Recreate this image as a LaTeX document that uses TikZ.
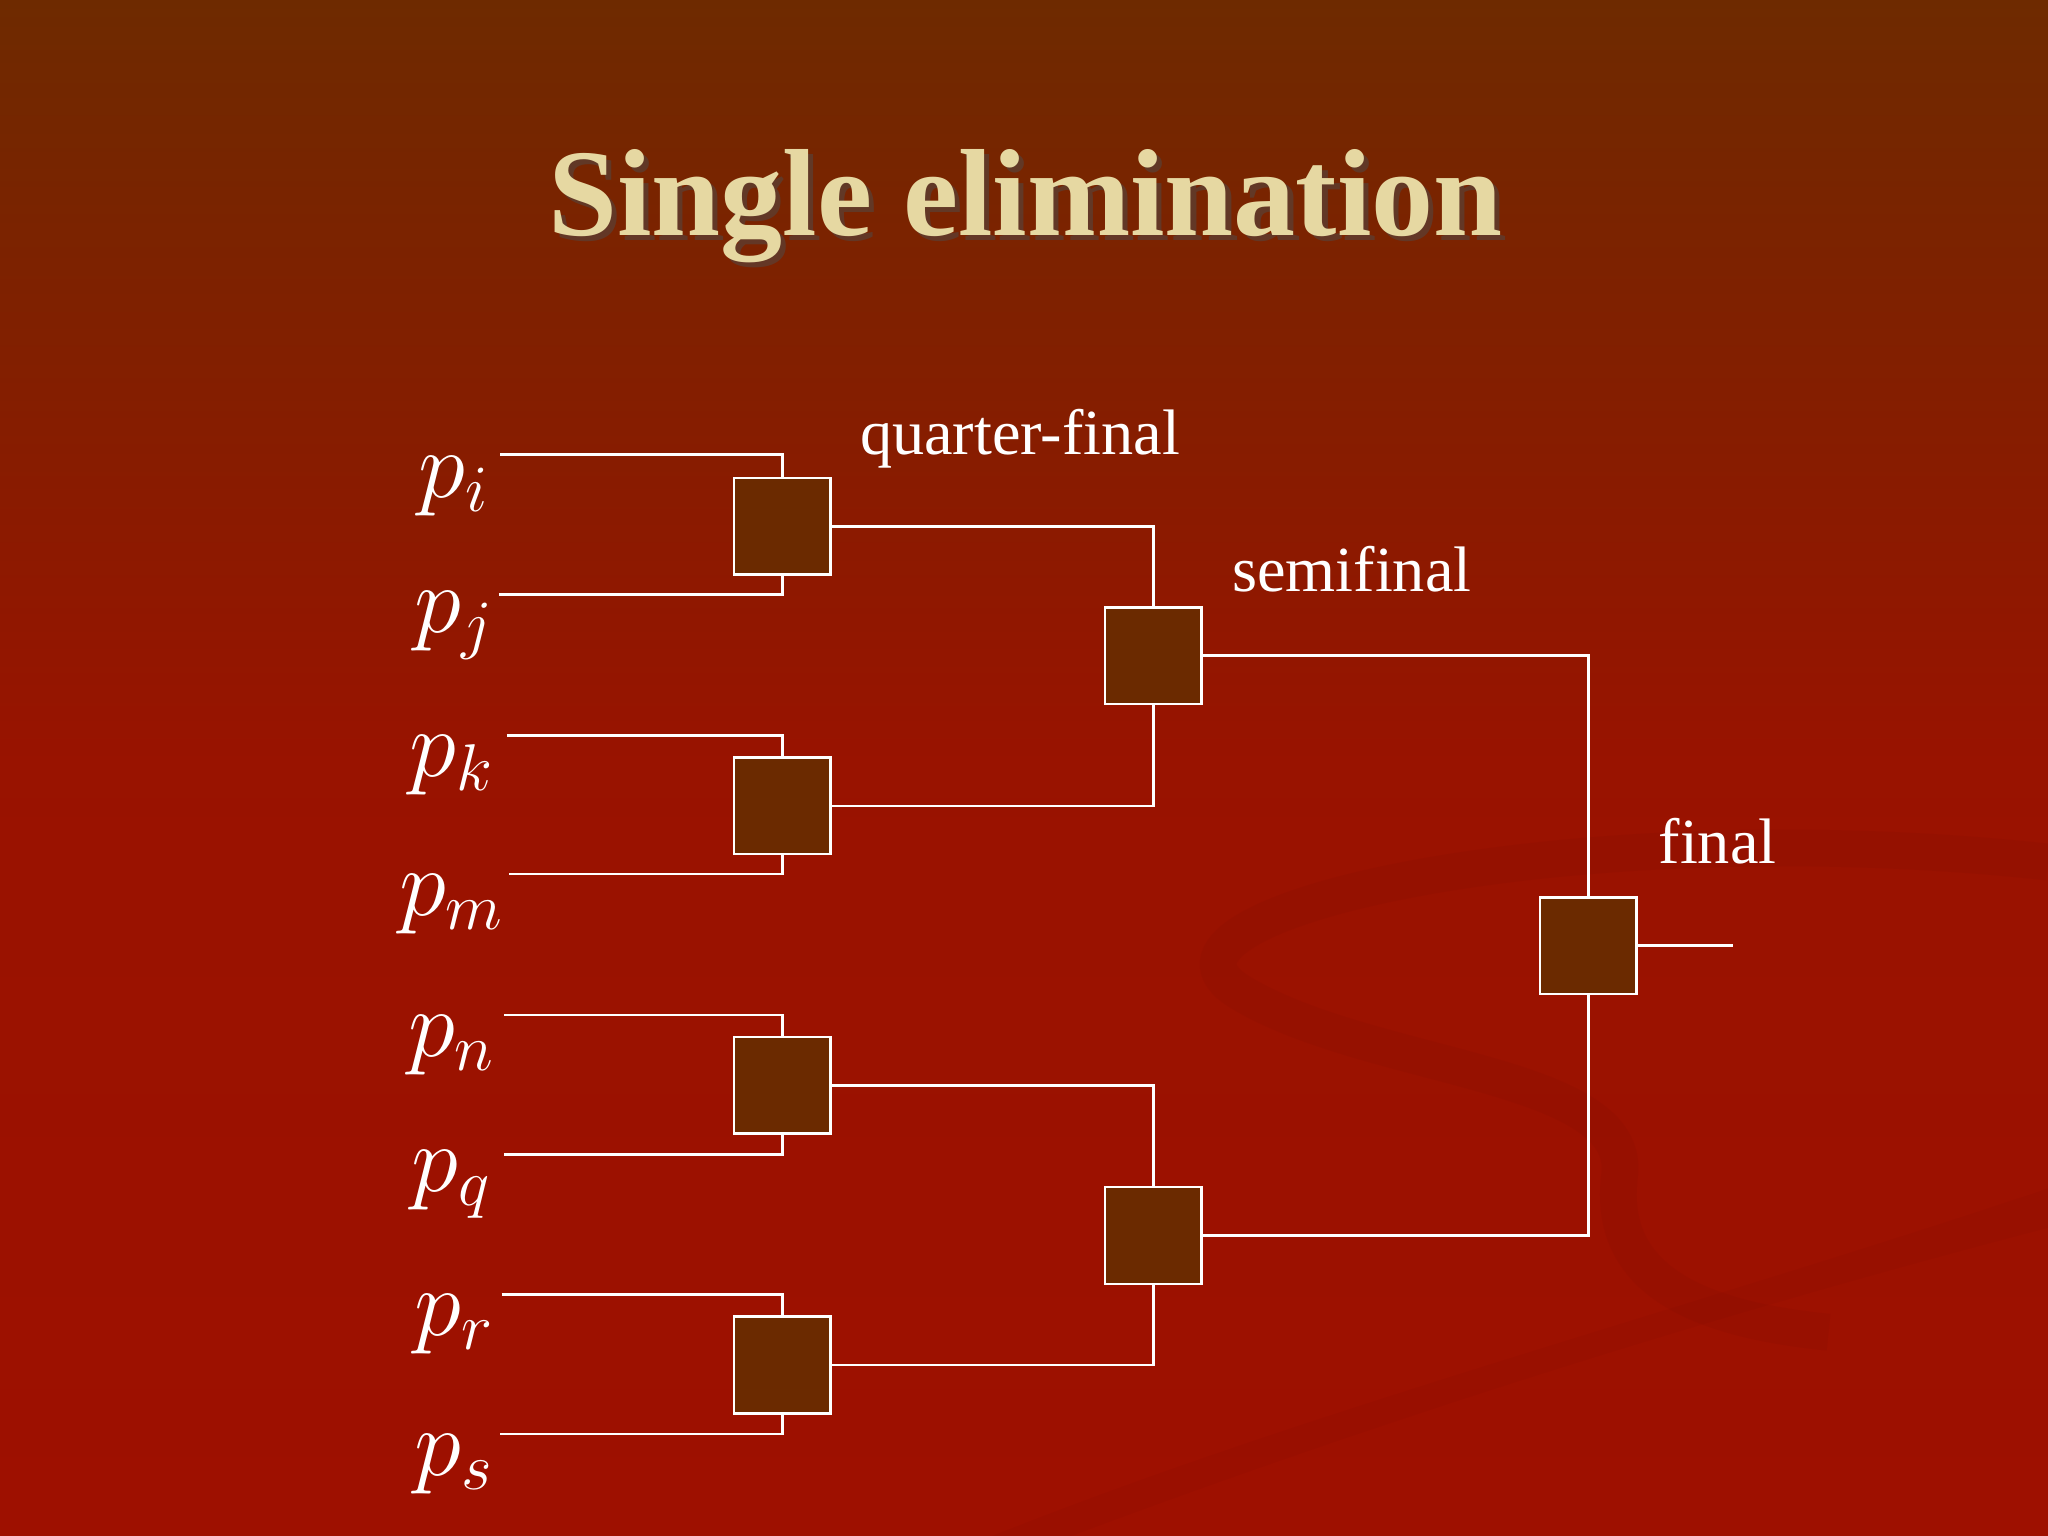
\documentclass[tikz,border=0pt]{standalone}
\usepackage{fontspec}
\setmainfont{Liberation Serif}
\definecolor{bgtop}{HTML}{6E2A00}
\definecolor{bgbot}{HTML}{9E1000}
\definecolor{boxfill}{HTML}{6B2A00}
\definecolor{titlecol}{HTML}{E6D8A2}
\begin{document}
\begin{tikzpicture}[x=0.01cm,y=-0.01cm,
  mbox/.style={draw=white,fill=boxfill,minimum size=0.74cm,inner sep=0pt,line width=0.55pt},
  wire/.style={draw=white,line width=0.55pt},
  plab/.style={text=white,font=\fontsize{20}{22}\selectfont},
  rlab/.style={text=white,font=\fontsize{14}{16}\selectfont,anchor=base}]
\useasboundingbox (0,0) rectangle (1568,1176);
\shade[top color=bgtop,bottom color=bgbot,middle color=bgbot!90!bgtop,shading angle=0] (0,0) rectangle (1568,1176);
\fill[bgbot!80!black,opacity=0.12] (1568,910) .. controls (1300,1000) and (1000,1080) .. (760,1176) -- (820,1176) .. controls (1050,1090) and (1300,1010) .. (1568,940) -- cycle;
\draw[bgbot!80!black,opacity=0.15,line width=8pt] (1568,660) .. controls (1200,620) and (850,700) .. (950,760) .. controls (1050,820) and (1250,820) .. (1240,900) .. controls (1230,980) and (1300,1010) .. (1400,1020);
% title
\node[text=black!70,opacity=0.5,font=\bfseries\fontsize{27}{30}\selectfont] at (789,162) {Single elimination};
\node (title) [text=titlecol,font=\bfseries\fontsize{27}{30}\selectfont] at (785,158) {Single elimination};
% boxes
\node[mbox] (q1) at (599,403) {};
\node[mbox] (q2) at (599,617) {};
\node[mbox] (q3) at (599,831) {};
\node[mbox] (q4) at (599,1045) {};
\node[mbox] (s1) at (883,502) {};
\node[mbox] (s2) at (883,946) {};
\node[mbox] (f) at (1216,724) {};
% player coords
\coordinate (ci) at (383,348); \coordinate (cj) at (382,455);
\coordinate (ck) at (388,563); \coordinate (cm) at (390,669);
\coordinate (cn) at (386,777); \coordinate (cq) at (386,884);
\coordinate (cr) at (384,991); \coordinate (cs) at (383,1098);
\coordinate (out) at (1327,724);
\draw[wire] (ci) -| (q1.north); \draw[wire] (cj) -| (q1.south);
\draw[wire] (ck) -| (q2.north); \draw[wire] (cm) -| (q2.south);
\draw[wire] (cn) -| (q3.north); \draw[wire] (cq) -| (q3.south);
\draw[wire] (cr) -| (q4.north); \draw[wire] (cs) -| (q4.south);
\draw[wire] (q1.east) -| (s1.north); \draw[wire] (q2.east) -| (s1.south);
\draw[wire] (q3.east) -| (s2.north); \draw[wire] (q4.east) -| (s2.south);
\draw[wire] (s1.east) -| (f.north); \draw[wire] (s2.east) -| (f.south);
\draw[wire] (f.east) -- (out);
% labels
\node[plab] (pi) at (348,372) {$p_i$};
\node[plab] (pj) at (348,479) {$p_j$};
\node[plab] (pk) at (346,586) {$p_k$};
\node[plab] (pm) at (346,692) {$p_m$};
\node[plab] (pn) at (346,800) {$p_n$};
\node[plab] (pq) at (346,907) {$p_q$};
\node[plab] (pr) at (348,1014) {$p_r$};
\node[plab] (ps) at (348,1121) {$p_s$};
\node[rlab] (lq) at (781,348) {quarter-final};
\node[rlab] (ls) at (1035,453) {semifinal};
\node[rlab] (lf) at (1315,661) {final};
\end{tikzpicture}
\end{document}
